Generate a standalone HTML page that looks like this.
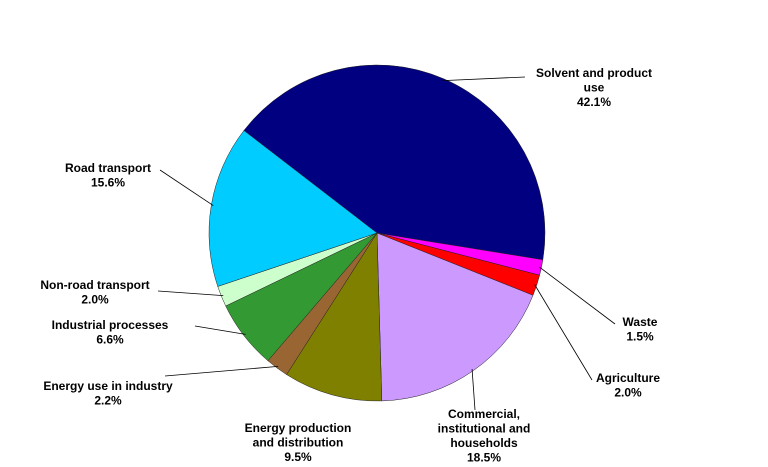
<!DOCTYPE html>
<html><head><meta charset="utf-8"><style>
body{margin:0;background:#fff;}
svg{display:block;font-family:"Liberation Sans",Verdana,sans-serif;font-weight:bold;font-size:12px;}
</style></head><body>
<svg id="chart" width="768" height="467">
<g id="slices"></g><g id="labels"></g>
</svg>
<script>
const categories=["Solvent and product use","Waste","Agriculture","Commercial, institutional and households","Energy production and distribution","Energy use in industry","Industrial processes","Non-road transport","Road transport"];
const values=[42.1,1.5,2.0,18.5,9.5,2.2,6.6,2.0,15.6];
const colors=["#000080","#ff00ff","#ff0000","#cc99ff","#808000","#996633","#339933","#ccffcc","#00ccff"];
const labelLines=[["Solvent and product","use"],["Waste"],["Agriculture"],["Commercial,","institutional  and","households"],["Energy production","and distribution"],["Energy use in industry"],["Industrial processes"],["Non-road transport"],["Road transport"]];
const labelPos=[[594,77],[640,326],[628,382],[484,418],[298,432],[108,390],[110,329],[95,289],[108,172]];
const leaders=[[525,77],[615,324],[592,380],[475,410],[null,null],[165,376],[195,326],[158,291],[160,170]];
const cx=377,cy=233,r=168,start=307.6;
const NS="http://www.w3.org/2000/svg";
const gS=document.getElementById('slices'),gL=document.getElementById('labels');
function pt(a,rr){const t=a*Math.PI/180;return [cx+rr*Math.sin(t),cy-rr*Math.cos(t)];}
const total=values.reduce((a,b)=>a+b,0);
let a=start;
values.forEach((v,i)=>{
  const sw=v/total*360,a2=a+sw;
  const p1=pt(a,r),p2=pt(a2,r);
  const path=document.createElementNS(NS,'path');
  path.setAttribute('d',`M${cx},${cy}L${p1[0]},${p1[1]}A${r},${r} 0 ${sw>180?1:0} 1 ${p2[0]},${p2[1]}Z`);
  path.setAttribute('fill',colors[i]);path.setAttribute('stroke','#222');path.setAttribute('stroke-width','0.5');
  
  
  gS.appendChild(path);
  const mid=(a+a2)/2,pe=pt(mid,r-2);
  if(leaders[i][0]!==null){
    const ln=document.createElementNS(NS,'line');
    ln.setAttribute('x1',pe[0]);ln.setAttribute('y1',pe[1]);ln.setAttribute('x2',leaders[i][0]);ln.setAttribute('y2',leaders[i][1]);
    ln.setAttribute('stroke','#000');ln.setAttribute('stroke-width','0.8');
    
    
    gL.appendChild(ln);
  }
  const lines=labelLines[i].concat([v.toFixed(1)+'%']);
  const t=document.createElementNS(NS,'text');
  t.setAttribute('text-anchor','middle');
  
  
  lines.forEach((s,k)=>{const ts=document.createElementNS(NS,'tspan');ts.setAttribute('x',labelPos[i][0]);ts.setAttribute('y',labelPos[i][1]+k*14.5);ts.textContent=s;t.appendChild(ts);});
  gL.appendChild(t);
  a=a2;
});
</script>
</body></html>
